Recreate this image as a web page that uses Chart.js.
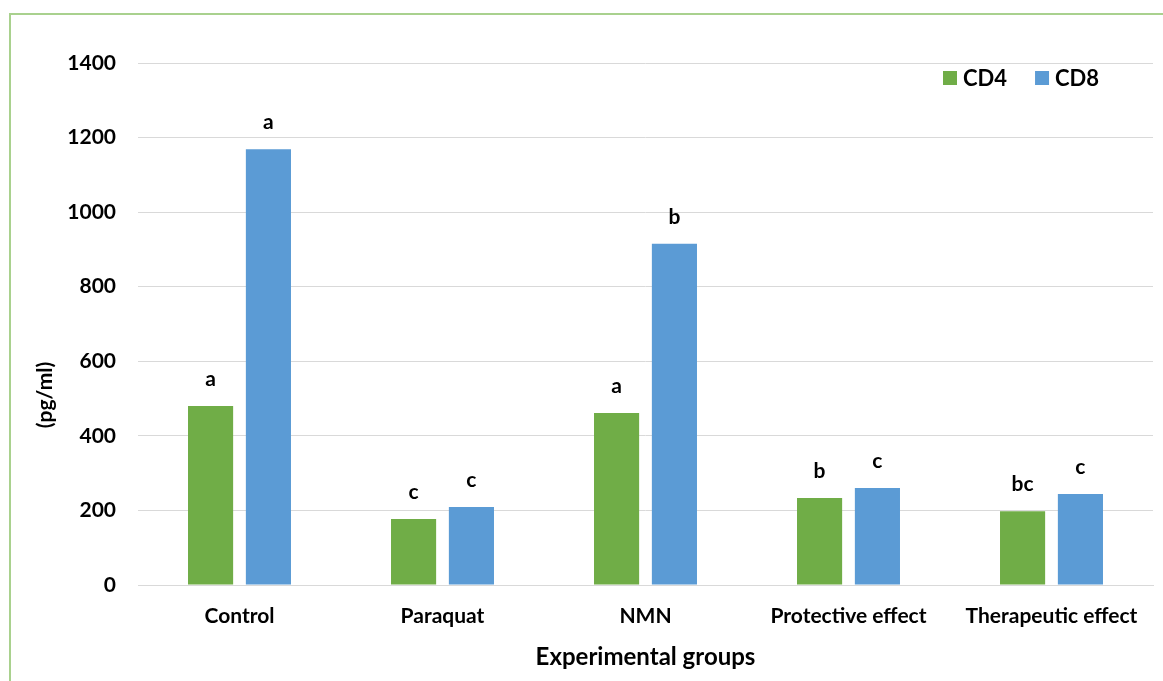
<!DOCTYPE html>
<html>
<head>
<meta charset="utf-8">
<script src="https://cdn.jsdelivr.net/npm/chart.js@4.4.1/dist/chart.umd.min.js"></script>
<style>
  html, body { margin: 0; padding: 0; background: #fff; overflow: hidden; }
  #frame { position: absolute; left: 9px; top: 13px; width: 1200px; height: 720px; border: 2px solid #a9d18e; box-sizing: border-box; }
  #wrap { position: absolute; left: 0; top: 0; width: 1163px; height: 681px; }
</style>
</head>
<body>
<div id="frame"></div>
<div id="wrap"><canvas id="myChart"></canvas></div>
<script>
const groups = ["Control", "Paraquat", "NMN", "Protective effect", "Therapeutic effect"];
const cd4 = [480, 177, 461, 233, 198];
const cd8 = [1169, 209, 915, 260, 244];
const cd4Letters = ["a", "c", "a", "b", "bc"];
const cd8Letters = ["a", "c", "b", "c", "c"];
const yTicks = [0, 200, 400, 600, 800, 1000, 1200, 1400];
const yTitle = "(pg/ml)";

const font = "Lato, 'Open Sans', sans-serif";
const boldFont = "bold 21px " + font;

// letters of significance above each bar
const letterPlugin = {
  id: "letters",
  afterDatasetsDraw(chart) {
    const ctx = chart.ctx;
    const sets = [cd4Letters, cd8Letters];
    ctx.save();
    ctx.fillStyle = "#000";
    ctx.font = boldFont;
    ctx.textAlign = "center";
    ctx.textBaseline = "alphabetic";
    chart.data.datasets.forEach((ds, i) => {
      chart.getDatasetMeta(i).data.forEach((bar, j) => {
        ctx.fillText(sets[i][j], bar.x, bar.y - 20);
      });
    });
    ctx.restore();
  }
};

// legend sits inside the plot, top right
const legendPlugin = {
  id: "innerLegend",
  afterDraw(chart) {
    const ctx = chart.ctx;
    ctx.save();
    ctx.font = "bold 22px " + font;
    ctx.textBaseline = "middle";
    let x = 943;
    const y = 78;
    chart.data.datasets.forEach(ds => {
      ctx.fillStyle = ds.backgroundColor;
      ctx.fillRect(x, y - 7, 14, 14);
      ctx.fillStyle = "#000";
      ctx.fillText(ds.label, x + 20, y + 1);
      x += 20 + ctx.measureText(ds.label).width + 28;
    });
    ctx.restore();
  }
};

// y axis title, placed a bit below the middle like the original
const yTitlePlugin = {
  id: "yTitle",
  afterDraw(chart) {
    const ctx = chart.ctx;
    ctx.save();
    ctx.translate(45, 395);
    ctx.rotate(-Math.PI / 2);
    ctx.font = boldFont;
    ctx.fillStyle = "#000";
    ctx.textAlign = "center";
    ctx.textBaseline = "middle";
    ctx.fillText(yTitle, 0, 0);
    ctx.restore();
  }
};

const myChart = document.getElementById("myChart");

new Chart(myChart, {
  type: "bar",
  data: {
    labels: groups,
    datasets: [
      { label: "CD4", data: cd4, backgroundColor: "#70ad47", barPercentage: 0.78, categoryPercentage: 0.57 },
      { label: "CD8", data: cd8, backgroundColor: "#5b9bd5", barPercentage: 0.78, categoryPercentage: 0.57 }
    ]
  },
  options: {
    responsive: true,
    maintainAspectRatio: false,
    animation: false,
    layout: { padding: { top: 63, right: 10, bottom: 8, left: 0 } },
    plugins: {
      legend: { display: false },
      tooltip: { enabled: false }
    },
    scales: {
      x: {
        grid: { display: false, drawTicks: false },
        border: { color: "#d9d9d9" },
        ticks: { color: "#000", padding: 19, font: { family: font, size: 21, weight: "bold" } },
        title: { display: true, text: "Experimental groups", color: "#000", padding: { top: 10, bottom: 1 }, font: { family: font, size: 24, weight: "bold" } },
        afterFit: s => { s.height = 88; }
      },
      y: {
        min: 0,
        max: 1400,
        afterBuildTicks: s => { s.ticks = yTicks.map(v => ({ value: v })); },
        grid: { color: "#d9d9d9", drawTicks: false },
        border: { display: false },
        ticks: { color: "#000", padding: 22, callback: v => String(v), font: { family: font, size: 21, weight: "bold" } },
        afterFit: s => { s.width = 138; }
      }
    }
  },
  plugins: [letterPlugin, legendPlugin, yTitlePlugin]
});
</script>
</body>
</html>
